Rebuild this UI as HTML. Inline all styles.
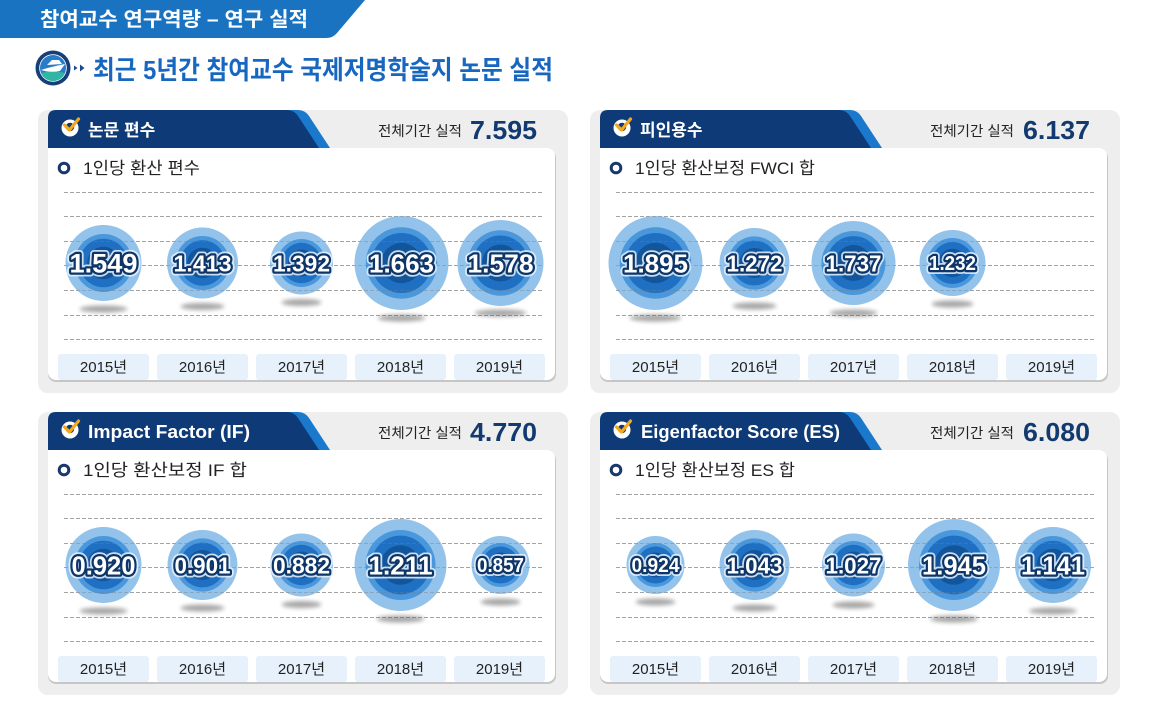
<!DOCTYPE html>
<html><head><meta charset="utf-8">
<style>
html,body{margin:0;padding:0;background:#fff;}
svg{display:block;}
.kb{font-family:"Liberation Sans","Noto Sans CJK KR",sans-serif;font-weight:700;}
.kr{font-family:"Liberation Sans","Noto Sans CJK KR",sans-serif;font-weight:400;}
.num{font-family:"Liberation Sans",sans-serif;font-weight:700;fill:#fff;stroke:#0d3568;stroke-width:4.5;paint-order:stroke;stroke-linejoin:round;}
.numw{font-family:"Liberation Sans",sans-serif;font-weight:700;fill:#e9f3fc;stroke:#e9f3fc;stroke-width:8;stroke-linejoin:round;opacity:.85;}
.dl{stroke:#bcbcbc;stroke-width:1;stroke-dasharray:4 2;}
.dlo{stroke:#7d7d7d;stroke-width:1;stroke-dasharray:4 2;opacity:.4;}
.yr{fill:#e7f1fb;}
.yt{font-size:15px;fill:#222;}
</style></head>
<body>
<svg width="1160" height="727" viewBox="0 0 1160 727" xmlns="http://www.w3.org/2000/svg">
<defs>
  <filter id="blur" x="-50%" y="-200%" width="200%" height="500%"><feGaussianBlur stdDeviation="2"/></filter>
  <clipPath id="ic"><circle cx="53" cy="68" r="13"/></clipPath>
  <g id="lines">
    <line class="dl" x1="64" x2="543" y1="192.5" y2="192.5"/>
    <line class="dl" x1="64" x2="543" y1="216.5" y2="216.5"/>
    <line class="dl" x1="64" x2="543" y1="241.5" y2="241.5"/>
    <line class="dl" x1="64" x2="543" y1="265.5" y2="265.5"/>
    <line class="dl" x1="64" x2="543" y1="290.5" y2="290.5"/>
    <line class="dl" x1="64" x2="543" y1="315.5" y2="315.5"/>
    <line class="dl" x1="64" x2="543" y1="339.5" y2="339.5"/>
  </g>
  <g id="linesO">
    <line class="dlo" x1="64" x2="543" y1="192.5" y2="192.5"/>
    <line class="dlo" x1="64" x2="543" y1="216.5" y2="216.5"/>
    <line class="dlo" x1="64" x2="543" y1="241.5" y2="241.5"/>
    <line class="dlo" x1="64" x2="543" y1="265.5" y2="265.5"/>
    <line class="dlo" x1="64" x2="543" y1="290.5" y2="290.5"/>
    <line class="dlo" x1="64" x2="543" y1="315.5" y2="315.5"/>
    <line class="dlo" x1="64" x2="543" y1="339.5" y2="339.5"/>
  </g>
  <g id="frame">
    <rect x="38" y="110" width="530" height="283" rx="10" fill="#eeeeee"/>
    <rect x="48" y="150" width="508" height="232" rx="8" fill="#c6c6c6"/>
    <rect x="48" y="148" width="507" height="232" rx="8" fill="#ffffff"/>
    <rect x="48" y="148" width="20" height="20" fill="#ffffff"/>
    <path d="M282,110 L298,110 Q305,110 309,116 L330,148 L300,148 Z" fill="#1b79cd"/>
    <path d="M48,118 Q48,110 56,110 L287,110 Q294,110 298,116 L319,148 L48,148 Z" fill="#0e3a77"/>
    <circle cx="70" cy="128" r="8.5" fill="#ffffff"/>
    <circle cx="70" cy="127" r="4.2" fill="#0e3a77"/>
    <path d="M64.5,125 L69.5,130 L78.5,119" fill="none" stroke="#f5a81c" stroke-width="3.2" stroke-linecap="round" stroke-linejoin="round"/>
    <text class="kr" x="378" y="136" font-size="14" fill="#222" textLength="84" lengthAdjust="spacingAndGlyphs">전체기간 실적</text>
    <circle cx="64" cy="168" r="4.8" fill="none" stroke="#17386b" stroke-width="3"/>
    <use href="#lines"/>
    <rect class="yr" x="58" y="354" width="91" height="26" rx="3"/>
    <rect class="yr" x="157" y="354" width="91" height="26" rx="3"/>
    <rect class="yr" x="256" y="354" width="91" height="26" rx="3"/>
    <rect class="yr" x="355" y="354" width="91" height="26" rx="3"/>
    <rect class="yr" x="454" y="354" width="91" height="26" rx="3"/>
    <text class="kr yt" x="103.5" y="372" text-anchor="middle">2015년</text>
    <text class="kr yt" x="202.5" y="372" text-anchor="middle">2016년</text>
    <text class="kr yt" x="301.5" y="372" text-anchor="middle">2017년</text>
    <text class="kr yt" x="400.5" y="372" text-anchor="middle">2018년</text>
    <text class="kr yt" x="499.5" y="372" text-anchor="middle">2019년</text>
  </g>
</defs>

<!-- top banner -->
<path d="M0,0 H365 L337,33 Q333,38 326,38 H0 Z" fill="#1a73c1"/>
<text class="kb" x="40" y="26" font-size="20" fill="#fff" textLength="268" lengthAdjust="spacingAndGlyphs">참여교수 연구역량 – 연구 실적</text>

<!-- title -->
<circle cx="53" cy="68" r="17.5" fill="#163f7a"/>
<circle cx="53" cy="68" r="13.8" fill="#ffffff"/>
<circle cx="53" cy="68" r="13" fill="#2a7cc9"/>
<g clip-path="url(#ic)">
  <path d="M38,74 Q53,69 68,74 L68,84 L38,84 Z" fill="#31b6a5"/>
  <path d="M41,70 Q50,67 65,64 L60,71 Q50,73 41,70Z" fill="#fff"/>
  <path d="M47,65 L52,60 L59,60 L62,64Z" fill="#fff"/>
</g>
<path d="M74,65.5 L77.5,68 L74,70.5Z M80,64.5 L84.5,68 L80,71.5Z" fill="#1b4a8a"/>
<text class="kb" x="93" y="79" font-size="26" fill="#1766bf" textLength="460" lengthAdjust="spacingAndGlyphs">최근 5년간 참여교수 국제저명학술지 논문 실적</text>

<!-- ============ Panel 1 ============ -->
<g>
  <use href="#frame"/>
  <text class="kb" x="88" y="136" font-size="17" fill="#fff">논문 편수</text>
  <text class="kb" x="470" y="139" font-size="26" fill="#123a70" textLength="67" lengthAdjust="spacingAndGlyphs">7.595</text>
  <text class="kr" x="83" y="174" font-size="17" fill="#222" textLength="117" lengthAdjust="spacingAndGlyphs">1인당 환산 편수</text>
  <g>
    <ellipse cx="103.5" cy="309" rx="24" ry="3.5" fill="#000" opacity=".35" filter="url(#blur)"/>
    <circle cx="103.5" cy="263" r="38" fill="#93c2ea"/><circle cx="103.5" cy="263" r="29" fill="#4a97dc"/><circle cx="103.5" cy="263" r="24.3" fill="#1f70c3"/><circle cx="103.5" cy="263" r="16.3" fill="#13559b"/>
    <ellipse cx="202.5" cy="306.5" rx="22" ry="3.5" fill="#000" opacity=".35" filter="url(#blur)"/>
    <circle cx="202.5" cy="263" r="35.5" fill="#93c2ea"/><circle cx="202.5" cy="263" r="27" fill="#4a97dc"/><circle cx="202.5" cy="263" r="22.7" fill="#1f70c3"/><circle cx="202.5" cy="263" r="15.3" fill="#13559b"/>
    <ellipse cx="301.5" cy="302.5" rx="20" ry="3.5" fill="#000" opacity=".35" filter="url(#blur)"/>
    <circle cx="301.5" cy="263" r="31.5" fill="#93c2ea"/><circle cx="301.5" cy="263" r="24" fill="#4a97dc"/><circle cx="301.5" cy="263" r="20.2" fill="#1f70c3"/><circle cx="301.5" cy="263" r="13.5" fill="#13559b"/>
    <ellipse cx="401.5" cy="318" rx="24" ry="3.5" fill="#000" opacity=".35" filter="url(#blur)"/>
    <circle cx="401.5" cy="263" r="47" fill="#93c2ea"/><circle cx="401.5" cy="263" r="35.7" fill="#4a97dc"/><circle cx="401.5" cy="263" r="30" fill="#1f70c3"/><circle cx="401.5" cy="263" r="20.2" fill="#13559b"/>
    <ellipse cx="500.5" cy="313" rx="26" ry="3.5" fill="#000" opacity=".35" filter="url(#blur)"/>
    <circle cx="500.5" cy="263" r="43" fill="#93c2ea"/><circle cx="500.5" cy="263" r="32.7" fill="#4a97dc"/><circle cx="500.5" cy="263" r="27.5" fill="#1f70c3"/><circle cx="500.5" cy="263" r="18.5" fill="#13559b"/>
  </g>
  <use href="#linesO"/>
  <text class="numw" x="103.5" y="272.5" font-size="27" text-anchor="middle" textLength="68" lengthAdjust="spacingAndGlyphs">1.549</text>
  <text class="num" x="103.5" y="272.5" font-size="27" text-anchor="middle" textLength="68" lengthAdjust="spacingAndGlyphs">1.549</text>
  <text class="numw" x="202.5" y="271.5" font-size="23.5" text-anchor="middle" textLength="58" lengthAdjust="spacingAndGlyphs">1.413</text>
  <text class="num" x="202.5" y="271.5" font-size="23.5" text-anchor="middle" textLength="58" lengthAdjust="spacingAndGlyphs">1.413</text>
  <text class="numw" x="301.5" y="271.5" font-size="23.5" text-anchor="middle" textLength="57" lengthAdjust="spacingAndGlyphs">1.392</text>
  <text class="num" x="301.5" y="271.5" font-size="23.5" text-anchor="middle" textLength="57" lengthAdjust="spacingAndGlyphs">1.392</text>
  <text class="numw" x="401.5" y="272.5" font-size="26" text-anchor="middle" textLength="65" lengthAdjust="spacingAndGlyphs">1.663</text>
  <text class="num" x="401.5" y="272.5" font-size="26" text-anchor="middle" textLength="65" lengthAdjust="spacingAndGlyphs">1.663</text>
  <text class="numw" x="500.5" y="272.5" font-size="26" text-anchor="middle" textLength="66" lengthAdjust="spacingAndGlyphs">1.578</text>
  <text class="num" x="500.5" y="272.5" font-size="26" text-anchor="middle" textLength="66" lengthAdjust="spacingAndGlyphs">1.578</text>
</g>

<!-- ============ Panel 2 ============ -->
<g transform="translate(552,0)">
  <use href="#frame"/>
  <text class="kb" x="88" y="136" font-size="17" fill="#fff">피인용수</text>
  <text class="kb" x="471" y="139" font-size="26" fill="#123a70" textLength="67" lengthAdjust="spacingAndGlyphs">6.137</text>
  <text class="kr" x="83" y="174" font-size="17" fill="#222" textLength="180" lengthAdjust="spacingAndGlyphs">1인당 환산보정 FWCI 합</text>
  <g>
    <ellipse cx="103.5" cy="318" rx="26" ry="3.5" fill="#000" opacity=".35" filter="url(#blur)"/>
    <circle cx="103.5" cy="263" r="47" fill="#93c2ea"/><circle cx="103.5" cy="263" r="35.7" fill="#4a97dc"/><circle cx="103.5" cy="263" r="30" fill="#1f70c3"/><circle cx="103.5" cy="263" r="20.2" fill="#13559b"/>
    <ellipse cx="202.5" cy="306" rx="22" ry="3.5" fill="#000" opacity=".35" filter="url(#blur)"/>
    <circle cx="202.5" cy="263" r="35" fill="#93c2ea"/><circle cx="202.5" cy="263" r="26.6" fill="#4a97dc"/><circle cx="202.5" cy="263" r="22.4" fill="#1f70c3"/><circle cx="202.5" cy="263" r="15" fill="#13559b"/>
    <ellipse cx="301.5" cy="313" rx="24" ry="3.5" fill="#000" opacity=".35" filter="url(#blur)"/>
    <circle cx="301.5" cy="263" r="42" fill="#93c2ea"/><circle cx="301.5" cy="263" r="32" fill="#4a97dc"/><circle cx="301.5" cy="263" r="26.9" fill="#1f70c3"/><circle cx="301.5" cy="263" r="18" fill="#13559b"/>
    <ellipse cx="400.5" cy="304" rx="21" ry="3.5" fill="#000" opacity=".35" filter="url(#blur)"/>
    <circle cx="400.5" cy="263" r="33" fill="#93c2ea"/><circle cx="400.5" cy="263" r="25" fill="#4a97dc"/><circle cx="400.5" cy="263" r="21" fill="#1f70c3"/><circle cx="400.5" cy="263" r="14.2" fill="#13559b"/>
  </g>
  <use href="#linesO"/>
  <text class="numw" x="103.5" y="272.5" font-size="26" text-anchor="middle" textLength="65" lengthAdjust="spacingAndGlyphs">1.895</text>
  <text class="num" x="103.5" y="272.5" font-size="26" text-anchor="middle" textLength="65" lengthAdjust="spacingAndGlyphs">1.895</text>
  <text class="numw" x="202.5" y="271.5" font-size="23" text-anchor="middle" textLength="56" lengthAdjust="spacingAndGlyphs">1.272</text>
  <text class="num" x="202.5" y="271.5" font-size="23" text-anchor="middle" textLength="56" lengthAdjust="spacingAndGlyphs">1.272</text>
  <text class="numw" x="301.5" y="271.5" font-size="23" text-anchor="middle" textLength="56" lengthAdjust="spacingAndGlyphs">1.737</text>
  <text class="num" x="301.5" y="271.5" font-size="23" text-anchor="middle" textLength="56" lengthAdjust="spacingAndGlyphs">1.737</text>
  <text class="numw" x="400.5" y="270" font-size="20" text-anchor="middle" textLength="47" lengthAdjust="spacingAndGlyphs">1.232</text>
  <text class="num" x="400.5" y="270" font-size="20" text-anchor="middle" textLength="47" lengthAdjust="spacingAndGlyphs">1.232</text>
</g>

<!-- ============ Panel 3 ============ -->
<g transform="translate(0,302)">
  <use href="#frame"/>
  <text class="kb" x="88" y="136" font-size="18" fill="#fff" textLength="162" lengthAdjust="spacingAndGlyphs">Impact Factor (IF)</text>
  <text class="kb" x="470" y="139" font-size="26" fill="#123a70" textLength="67" lengthAdjust="spacingAndGlyphs">4.770</text>
  <text class="kr" x="83" y="174" font-size="17" fill="#222" textLength="164" lengthAdjust="spacingAndGlyphs">1인당 환산보정 IF 합</text>
  <g>
    <ellipse cx="103.5" cy="309" rx="24" ry="3.5" fill="#000" opacity=".35" filter="url(#blur)"/>
    <circle cx="103.5" cy="263" r="38" fill="#93c2ea"/><circle cx="103.5" cy="263" r="29" fill="#4a97dc"/><circle cx="103.5" cy="263" r="24.3" fill="#1f70c3"/><circle cx="103.5" cy="263" r="16.3" fill="#13559b"/>
    <ellipse cx="202.5" cy="306" rx="22" ry="3.5" fill="#000" opacity=".35" filter="url(#blur)"/>
    <circle cx="202.5" cy="263" r="35" fill="#93c2ea"/><circle cx="202.5" cy="263" r="26.6" fill="#4a97dc"/><circle cx="202.5" cy="263" r="22.4" fill="#1f70c3"/><circle cx="202.5" cy="263" r="15" fill="#13559b"/>
    <ellipse cx="301.5" cy="302.5" rx="20" ry="3.5" fill="#000" opacity=".35" filter="url(#blur)"/>
    <circle cx="301.5" cy="263" r="31.5" fill="#93c2ea"/><circle cx="301.5" cy="263" r="24" fill="#4a97dc"/><circle cx="301.5" cy="263" r="20.2" fill="#1f70c3"/><circle cx="301.5" cy="263" r="13.5" fill="#13559b"/>
    <ellipse cx="400.5" cy="317" rx="24" ry="3.5" fill="#000" opacity=".35" filter="url(#blur)"/>
    <circle cx="400.5" cy="263" r="46" fill="#93c2ea"/><circle cx="400.5" cy="263" r="35" fill="#4a97dc"/><circle cx="400.5" cy="263" r="29.4" fill="#1f70c3"/><circle cx="400.5" cy="263" r="19.8" fill="#13559b"/>
    <ellipse cx="500.5" cy="300" rx="20" ry="3.5" fill="#000" opacity=".35" filter="url(#blur)"/>
    <circle cx="500.5" cy="263" r="29" fill="#93c2ea"/><circle cx="500.5" cy="263" r="22" fill="#4a97dc"/><circle cx="500.5" cy="263" r="18.5" fill="#1f70c3"/><circle cx="500.5" cy="263" r="12.5" fill="#13559b"/>
  </g>
  <use href="#linesO"/>
  <text class="numw" x="103.5" y="272.5" font-size="26" text-anchor="middle" textLength="64" lengthAdjust="spacingAndGlyphs">0.920</text>
  <text class="num" x="103.5" y="272.5" font-size="26" text-anchor="middle" textLength="64" lengthAdjust="spacingAndGlyphs">0.920</text>
  <text class="numw" x="202.5" y="271.5" font-size="23" text-anchor="middle" textLength="56" lengthAdjust="spacingAndGlyphs">0.901</text>
  <text class="num" x="202.5" y="271.5" font-size="23" text-anchor="middle" textLength="56" lengthAdjust="spacingAndGlyphs">0.901</text>
  <text class="numw" x="301.5" y="271.5" font-size="23" text-anchor="middle" textLength="57" lengthAdjust="spacingAndGlyphs">0.882</text>
  <text class="num" x="301.5" y="271.5" font-size="23" text-anchor="middle" textLength="57" lengthAdjust="spacingAndGlyphs">0.882</text>
  <text class="numw" x="400.5" y="272.5" font-size="26" text-anchor="middle" textLength="64" lengthAdjust="spacingAndGlyphs">1.211</text>
  <text class="num" x="400.5" y="272.5" font-size="26" text-anchor="middle" textLength="64" lengthAdjust="spacingAndGlyphs">1.211</text>
  <text class="numw" x="500.5" y="270" font-size="20" text-anchor="middle" textLength="47" lengthAdjust="spacingAndGlyphs">0.857</text>
  <text class="num" x="500.5" y="270" font-size="20" text-anchor="middle" textLength="47" lengthAdjust="spacingAndGlyphs">0.857</text>
</g>

<!-- ============ Panel 4 ============ -->
<g transform="translate(552,302)">
  <use href="#frame"/>
  <text class="kb" x="89" y="136" font-size="18" fill="#fff" textLength="199" lengthAdjust="spacingAndGlyphs">Eigenfactor Score (ES)</text>
  <text class="kb" x="471" y="139" font-size="26" fill="#123a70" textLength="67" lengthAdjust="spacingAndGlyphs">6.080</text>
  <text class="kr" x="83" y="174" font-size="17" fill="#222" textLength="160" lengthAdjust="spacingAndGlyphs">1인당 환산보정 ES 합</text>
  <g>
    <ellipse cx="103.5" cy="300" rx="20" ry="3.5" fill="#000" opacity=".35" filter="url(#blur)"/>
    <circle cx="103.5" cy="263" r="29" fill="#93c2ea"/><circle cx="103.5" cy="263" r="22" fill="#4a97dc"/><circle cx="103.5" cy="263" r="18.5" fill="#1f70c3"/><circle cx="103.5" cy="263" r="12.5" fill="#13559b"/>
    <ellipse cx="202.5" cy="306" rx="22" ry="3.5" fill="#000" opacity=".35" filter="url(#blur)"/>
    <circle cx="202.5" cy="263" r="35" fill="#93c2ea"/><circle cx="202.5" cy="263" r="26.6" fill="#4a97dc"/><circle cx="202.5" cy="263" r="22.4" fill="#1f70c3"/><circle cx="202.5" cy="263" r="15" fill="#13559b"/>
    <ellipse cx="301.5" cy="303" rx="21" ry="3.5" fill="#000" opacity=".35" filter="url(#blur)"/>
    <circle cx="301.5" cy="263" r="31.5" fill="#93c2ea"/><circle cx="301.5" cy="263" r="24" fill="#4a97dc"/><circle cx="301.5" cy="263" r="20.2" fill="#1f70c3"/><circle cx="301.5" cy="263" r="13.5" fill="#13559b"/>
    <ellipse cx="402" cy="317" rx="24" ry="3.5" fill="#000" opacity=".35" filter="url(#blur)"/>
    <circle cx="402" cy="263" r="46" fill="#93c2ea"/><circle cx="402" cy="263" r="35" fill="#4a97dc"/><circle cx="402" cy="263" r="29.4" fill="#1f70c3"/><circle cx="402" cy="263" r="19.8" fill="#13559b"/>
    <ellipse cx="501" cy="309" rx="24" ry="3.5" fill="#000" opacity=".35" filter="url(#blur)"/>
    <circle cx="501" cy="263" r="38" fill="#93c2ea"/><circle cx="501" cy="263" r="29" fill="#4a97dc"/><circle cx="501" cy="263" r="24.3" fill="#1f70c3"/><circle cx="501" cy="263" r="16.3" fill="#13559b"/>
  </g>
  <use href="#linesO"/>
  <text class="numw" x="103.5" y="270" font-size="20" text-anchor="middle" textLength="48" lengthAdjust="spacingAndGlyphs">0.924</text>
  <text class="num" x="103.5" y="270" font-size="20" text-anchor="middle" textLength="48" lengthAdjust="spacingAndGlyphs">0.924</text>
  <text class="numw" x="202.5" y="271.5" font-size="23" text-anchor="middle" textLength="56" lengthAdjust="spacingAndGlyphs">1.043</text>
  <text class="num" x="202.5" y="271.5" font-size="23" text-anchor="middle" textLength="56" lengthAdjust="spacingAndGlyphs">1.043</text>
  <text class="numw" x="301.5" y="271.5" font-size="23" text-anchor="middle" textLength="56" lengthAdjust="spacingAndGlyphs">1.027</text>
  <text class="num" x="301.5" y="271.5" font-size="23" text-anchor="middle" textLength="56" lengthAdjust="spacingAndGlyphs">1.027</text>
  <text class="numw" x="402" y="272.5" font-size="26" text-anchor="middle" textLength="64" lengthAdjust="spacingAndGlyphs">1.945</text>
  <text class="num" x="402" y="272.5" font-size="26" text-anchor="middle" textLength="64" lengthAdjust="spacingAndGlyphs">1.945</text>
  <text class="numw" x="501" y="272.5" font-size="26" text-anchor="middle" textLength="64" lengthAdjust="spacingAndGlyphs">1.141</text>
  <text class="num" x="501" y="272.5" font-size="26" text-anchor="middle" textLength="64" lengthAdjust="spacingAndGlyphs">1.141</text>
</g>
</svg>
</body></html>
